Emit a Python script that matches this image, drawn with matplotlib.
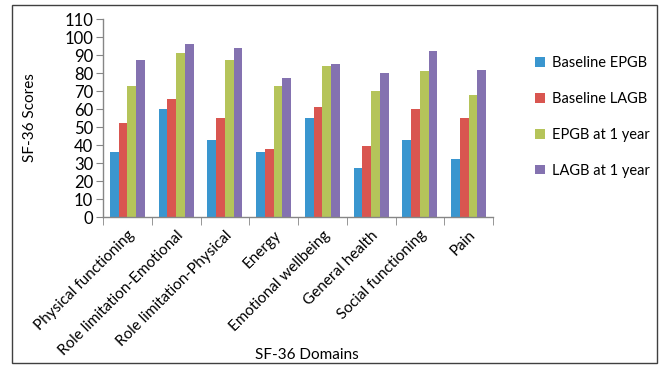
import matplotlib
matplotlib.use("Agg")
import matplotlib.pyplot as plt
import numpy as np
from matplotlib.patches import Rectangle

categories = ["Physical functioning", "Role limitation-Emotional", "Role limitation-Physical",
              "Energy", "Emotional wellbeing", "General health", "Social functioning", "Pain"]
baseline_epgb = [36, 60, 43, 36, 55, 27.5, 43, 32]
baseline_lagb = [52, 65.5, 55, 38, 61, 39.5, 60, 55]
epgb_1yr = [73, 91, 87, 73, 84, 70, 81, 68]
lagb_1yr = [87, 96, 94, 77, 85, 80, 92, 81.5]
series_names = ["Baseline EPGB", "Baseline LAGB", "EPGB at 1 year", "LAGB at 1 year"]
colors = ["#3A96CF", "#D95650", "#B5C45A", "#8472B0"]
yticks = list(range(0, 111, 10))

plt.rcParams['font.family'] = ['Lato', 'DejaVu Sans']

fig = plt.figure(figsize=(6.61, 3.75), dpi=100)
ax = fig.add_axes([103/661, 1 - 217/375, 390/661, 198/375])

x = np.arange(len(categories))
w = 0.18
series = [baseline_epgb, baseline_lagb, epgb_1yr, lagb_1yr]
for i, (vals, name, c) in enumerate(zip(series, series_names, colors)):
    ax.bar(x + (i - 1.5) * w, vals, width=w, color=c, label=name, zorder=2)

ax.set_xlim(-0.5, len(categories) - 0.5)
ax.set_ylim(0, 110)
ax.set_yticks(yticks)
ax.tick_params(axis='y', direction='out', length=5, color='#868686', labelsize=12, pad=2)
ax.set_xticks(x)
ax.set_xticklabels(categories, rotation=45, ha='right', rotation_mode='anchor', fontsize=11)
ax.tick_params(axis='x', which='major', length=0, pad=8)
ax.set_xticks(np.arange(-0.5, len(categories), 1), minor=True)
ax.tick_params(axis='x', which='minor', direction='out', length=6, color='#868686')
for s in ['top', 'right']:
    ax.spines[s].set_visible(False)
for s in ['left', 'bottom']:
    ax.spines[s].set_color('#868686')
    ax.spines[s].set_linewidth(1.0)

ax.set_ylabel("SF-36 Scores", fontsize=11)
ax.yaxis.set_label_coords(-0.17, 0.5)
fig.text(307/661, 1 - 355/375, "SF-36 Domains", ha='center', va='center', fontsize=11)

leg = fig.legend(loc='upper left', bbox_to_anchor=(522/661, 1 - 43/375), frameon=False,
                 fontsize=10.5, handlelength=0.65, handleheight=0.65, labelspacing=1.5,
                 handletextpad=0.5)

fig.patches.append(Rectangle((12/661, 1 - 363/375), (657 - 12)/661, (363 - 5)/375,
                             transform=fig.transFigure, fill=False, edgecolor='#404040',
                             linewidth=1.0))

fig.savefig("out.png", dpi=100)
